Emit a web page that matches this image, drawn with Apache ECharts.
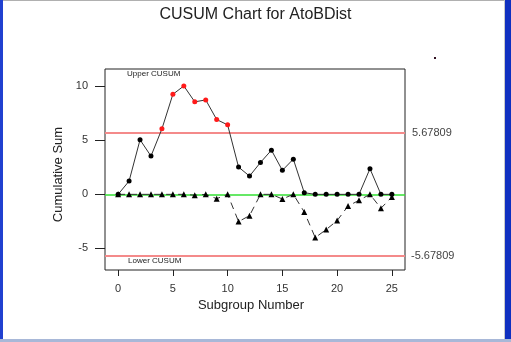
<!DOCTYPE html>
<html>
<head>
<meta charset="utf-8">
<script src="https://cdn.jsdelivr.net/npm/echarts@6/dist/echarts.min.js"></script>
<style>
  html, body { margin: 0; padding: 0; background: #fff; }
  #chart { width: 511px; height: 342px; }
</style>
</head>
<body>
<div id="chart"></div>
<script>
// Subgroup indices and the two one-sided cumulative sums
const subgroups = [0,1,2,3,4,5,6,7,8,9,10,11,12,13,14,15,16,17,18,19,20,21,22,23,24,25];
const upperCusum = [0, 1.23, 5.05, 3.54, 6.06, 9.26, 10.03, 8.56, 8.74, 6.92, 6.43, 2.52, 1.69, 2.95, 4.09, 2.22, 3.26, 0.15, 0, 0, 0, 0, 0, 2.37, 0, 0];
const lowerCusum = [0, 0, 0, 0, 0, 0, 0, -0.08, 0, -0.4, 0, -2.52, -1.97, 0, 0, -0.43, 0, -1.63, -4.0, -3.26, -2.43, -1.08, -0.55, 0, -1.29, -0.25];
const decisionLimit = 5.67809;
const xTicks = [0, 5, 10, 15, 20, 25];
const yTicks = [-5, 0, 5, 10];

const FONT = '"Liberation Sans", Arial, sans-serif';

function points(values, outOfControl) {
  return values.map((v, i) => ({
    value: [subgroups[i], v],
    itemStyle: { color: outOfControl(v) ? '#ff1a1a' : '#000' }
  }));
}

const chart = echarts.init(document.getElementById('chart'), null, { renderer: 'canvas' });

chart.setOption({
  animation: false,
  backgroundColor: '#fff',
  title: {
    text: 'CUSUM Chart for AtoBDist',
    left: 'center',
    top: 2,
    textStyle: { fontFamily: FONT, fontSize: 16, fontWeight: 'normal', color: '#222' }
  },
  grid: {
    left: 105, top: 69, width: 300, height: 201,
    show: true, borderColor: '#222', borderWidth: 1, backgroundColor: 'transparent'
  },
  xAxis: {
    type: 'value',
    min: -1.2, max: 26.2,
    name: 'Subgroup Number',
    nameLocation: 'middle',
    nameGap: 28,
    nameTextStyle: { fontFamily: FONT, fontSize: 13, color: '#222', padding: [0, 8, 0, 0] },
    axisLine: { show: false, onZero: false },
    axisTick: { show: true, length: 6, customValues: xTicks, lineStyle: { color: '#222' } },
    axisLabel: { customValues: xTicks, margin: 13, fontFamily: FONT, fontSize: 11, color: '#333' },
    splitLine: { show: false }
  },
  yAxis: {
    type: 'value',
    min: -7, max: 11.6,
    name: 'Cumulative Sum',
    nameLocation: 'middle',
    nameGap: 34,
    nameTextStyle: { fontFamily: FONT, fontSize: 13, color: '#222', padding: [0, 10, 0, 0] },
    axisLine: { show: false, onZero: false },
    axisTick: { show: true, length: 10, customValues: yTicks, lineStyle: { color: '#222' } },
    axisLabel: { customValues: yTicks, margin: 17, fontFamily: FONT, fontSize: 11, color: '#333' },
    splitLine: { show: false }
  },
  series: [
    {
      name: 'Limits',
      type: 'line',
      data: [],
      silent: true,
      markLine: {
        symbol: 'none',
        silent: true,
        z: 1,
        data: [
          { yAxis: decisionLimit, lineStyle: { color: '#f48a8a', width: 2, type: 'solid' },
            label: { show: true, position: 'end', distance: 7, formatter: String(decisionLimit) } },
          { yAxis: -decisionLimit, lineStyle: { color: '#f48a8a', width: 2, type: 'solid' },
            label: { show: true, position: 'end', distance: 6, formatter: String(-decisionLimit) } },
          { yAxis: 0, lineStyle: { color: '#33e033', width: 1.5, type: 'solid' }, label: { show: false } }
        ],
        label: { fontFamily: FONT, fontSize: 11, color: '#444' }
      }
    },
    {
      name: 'Upper CUSUM',
      type: 'line',
      z: 3,
      data: points(upperCusum, v => v > decisionLimit),
      symbol: 'circle',
      symbolSize: 5,
      lineStyle: { color: '#333', width: 1 },
      itemStyle: { color: '#000' }
    },
    {
      name: 'Lower CUSUM',
      type: 'line',
      z: 3,
      data: points(lowerCusum, v => v < -decisionLimit),
      symbol: 'triangle',
      symbolSize: 6,
      lineStyle: { color: '#333', width: 1, type: [7, 5] },
      itemStyle: { color: '#000' }
    }
  ],
  graphic: [
    { type: 'text', left: 127, top: 70, style: { text: 'Upper CUSUM', font: '8px ' + FONT, fill: '#222' } },
    { type: 'text', left: 128, top: 257, style: { text: 'Lower CUSUM', font: '8px ' + FONT, fill: '#222' } },
    { type: 'rect', shape: { x: 434, y: 57, width: 2, height: 2 }, style: { fill: '#301020' } },
    // window frame
    { type: 'rect', shape: { x: 0, y: 0, width: 511, height: 1 }, style: { fill: '#b0b0b0' } },
    { type: 'rect', shape: { x: 0, y: 0, width: 3, height: 342 }, style: { fill: '#2040d0' } },
    { type: 'rect', shape: { x: 504, y: 0, width: 1, height: 342 }, style: { fill: '#c8c8c8' } },
    { type: 'rect', shape: { x: 505, y: 0, width: 6, height: 342 }, style: { fill: '#1030c0' } },
    { type: 'rect', shape: { x: 0, y: 339, width: 511, height: 3 }, style: { fill: '#a8b8d8' } }
  ]
});
</script>
</body>
</html>
